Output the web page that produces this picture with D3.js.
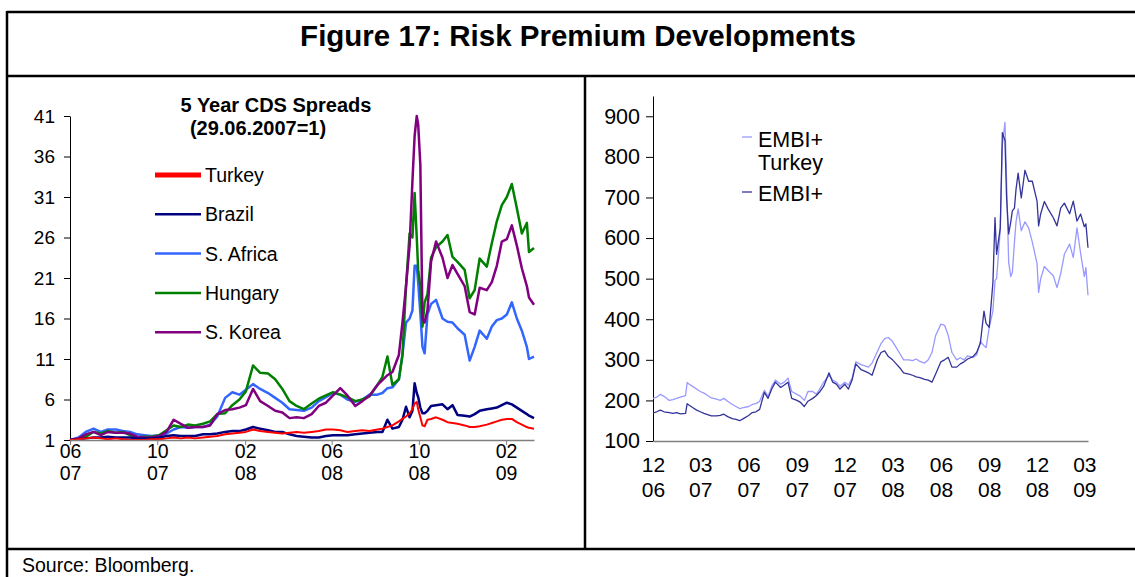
<!DOCTYPE html>
<html>
<head>
<meta charset="utf-8">
<script src="https://cdnjs.cloudflare.com/ajax/libs/d3/7.8.5/d3.min.js"></script>
<style>
  body { margin: 0; background: #fff; }
  text { font-family: Arial, "Liberation Sans", sans-serif; fill: #000; }
</style>
</head>
<body>
<svg width="1135" height="577"></svg>
<script>
// ---- left panel: 5 year CDS spreads (29.06.2007 = 1)
var cdsDates = ["2007-06-29","2007-07-11","2007-07-21","2007-08-01","2007-08-11","2007-08-21","2007-09-01","2007-09-11","2007-09-21",
  "2007-10-01","2007-10-11","2007-10-21","2007-11-01","2007-11-11","2007-11-21","2007-12-01","2007-12-11","2007-12-21",
  "2008-01-01","2008-01-11","2008-01-21","2008-02-01","2008-02-11","2008-02-21","2008-03-01","2008-03-11","2008-03-21",
  "2008-04-01","2008-04-11","2008-04-21","2008-05-01","2008-05-11","2008-05-21","2008-06-01","2008-06-11","2008-06-21",
  "2008-07-01","2008-07-11","2008-07-21","2008-08-01","2008-08-11","2008-08-21","2008-09-01","2008-09-08","2008-09-15","2008-09-22",
  "2008-10-01","2008-10-06","2008-10-11","2008-10-16","2008-10-20","2008-10-23","2008-10-26","2008-10-28","2008-10-31",
  "2008-11-03","2008-11-06","2008-11-10","2008-11-15","2008-11-22","2008-12-01","2008-12-08","2008-12-15","2008-12-22",
  "2009-01-01","2009-01-08","2009-01-15","2009-01-22","2009-02-01","2009-02-08","2009-02-15","2009-02-22",
  "2009-03-01","2009-03-08","2009-03-15","2009-03-22","2009-03-29","2009-04-01","2009-04-08"];

var turkey = [1.0,1.1,1.2,1.3,1.2,1.1,1.2,1.1,1.0, 1.0,1.0,1.1,1.1,1.2,1.3,1.2,1.3,1.2,
  1.3,1.4,1.5,1.7,1.8,1.9,2.0,2.3,2.1, 2.0,1.9,1.8,1.9,2.0,1.9,2.0,2.1,2.3,
  2.3,2.2,2.0,2.1,2.2,2.1,2.3,2.4,2.6,2.8, 3.3,3.6,3.9,4.3,4.8,5.5,5.7,4.8,3.8,
  2.8,2.7,3.5,3.6,3.8,3.5,3.2,3.1,3.0, 2.8,2.6,2.6,2.7,2.9,3.1,3.3,3.5, 3.6,3.6,3.2,2.9,2.6,2.5,2.4];
var brazil = [1.0,1.1,1.2,1.3,1.3,1.4,1.3,1.3,1.3, 1.2,1.2,1.2,1.3,1.5,1.6,1.5,1.5,1.5,
  1.7,1.7,1.8,2.0,2.1,2.1,2.3,2.6,2.4, 2.2,2.0,2.0,1.7,1.5,1.4,1.3,1.3,1.5,
  1.6,1.6,1.6,1.7,1.8,1.9,2.0,2.0,3.5,2.4, 2.6,3.5,5.1,3.8,4.6,8.0,6.8,6.3,5.0,
  4.3,4.3,4.6,5.2,5.3,5.4,4.8,5.3,4.1, 4.0,3.9,4.2,4.6,4.8,4.9,5.0,5.3, 5.6,5.4,5.0,4.6,4.2,4.0,3.7];
var southAfrica = [1.0,1.3,2.0,2.4,2.0,2.3,2.3,2.1,2.0, 1.7,1.6,1.5,1.6,1.8,2.3,2.6,2.5,2.6,
  2.6,2.9,3.9,6.2,6.9,6.6,7.2,7.9,7.3, 6.8,6.2,5.6,4.8,4.7,4.6,5.0,5.8,6.3,
  6.8,6.6,6.0,5.7,6.0,6.6,6.6,6.8,7.4,7.5, 8.5,11.5,15.5,16.0,17.0,22.5,22.5,20.5,16.7,
  12.5,11.7,16.5,17.8,18.3,16.0,15.6,15.5,14.8, 14.0,10.8,12.5,14.5,13.5,15.0,15.8,16.0, 16.5,18.0,16.0,14.5,12.5,11.0,11.3];
var hungary = [1.0,1.1,1.4,2.0,1.8,2.1,1.9,2.0,1.6, 1.3,1.4,1.4,1.6,2.2,2.8,2.6,2.9,2.8,
  3.0,3.3,4.2,4.3,5.3,6.0,7.0,10.2,9.3, 9.2,8.5,7.3,5.8,5.2,4.8,5.5,6.1,6.5,
  6.9,6.6,6.3,5.8,6.0,6.4,7.8,8.8,11.3,7.8, 8.5,11.5,20.0,26.5,26.0,31.5,26.0,22.0,20.0,
  15.0,18.0,19.0,23.5,24.8,25.5,26.3,23.6,23.0, 22.0,18.5,19.5,23.4,22.4,25.3,28.0,30.0, 31.0,32.6,29.6,26.5,27.8,24.2,24.7];
var southKorea = [1.0,1.2,1.7,2.0,1.6,2.0,1.9,1.9,1.8, 1.4,1.3,1.3,1.5,2.0,3.5,3.0,2.5,2.6,
  2.6,2.8,4.2,4.7,4.8,5.0,5.3,7.3,5.8, 5.2,4.6,4.4,3.7,3.8,3.7,4.2,5.2,5.6,
  6.5,7.4,6.5,5.2,5.8,6.5,7.8,8.4,9.0,9.4, 11.5,15.5,20.0,25.0,33.0,38.5,41.0,40.0,35.0,
  16.0,15.5,17.0,23.0,25.5,23.5,21.0,22.6,21.5, 20.0,16.8,16.5,19.8,19.5,20.5,22.5,25.5, 25.8,27.5,25.0,22.2,20.0,18.6,17.7];

var cdsNames = ["Turkey", "Brazil", "S. Africa", "Hungary", "S. Korea"];
var cdsColors = ["#ff0000", "#000080", "#3366ff", "#008000", "#800080"];
var cdsYTicks = [1, 6, 11, 16, 21, 26, 31, 36, 41];
var cdsXTicks = ["2007-06-29","2007-10-29","2008-02-29","2008-06-29","2008-10-29","2009-02-28"];

// ---- right panel: EMBI+ spreads (bp)
var embiDates = ["2006-12-01","2006-12-08","2006-12-15","2006-12-22",
  "2007-01-01","2007-01-08","2007-01-15","2007-01-22","2007-02-01","2007-02-04","2007-02-08","2007-02-15","2007-02-22",
  "2007-03-01","2007-03-08","2007-03-15","2007-03-22","2007-04-01","2007-04-08","2007-04-15","2007-04-22",
  "2007-05-01","2007-05-08","2007-05-15","2007-05-22","2007-06-01","2007-06-08","2007-06-15","2007-06-22",
  "2007-07-01","2007-07-08","2007-07-15","2007-07-22","2007-08-01","2007-08-08","2007-08-15","2007-08-22",
  "2007-09-01","2007-09-08","2007-09-15","2007-09-22","2007-10-01","2007-10-08","2007-10-15","2007-10-22",
  "2007-11-01","2007-11-08","2007-11-15","2007-11-22","2007-12-01","2007-12-08","2007-12-15","2007-12-22",
  "2008-01-01","2008-01-08","2008-01-15","2008-01-22","2008-02-01","2008-02-08","2008-02-15","2008-02-22",
  "2008-03-01","2008-03-08","2008-03-15","2008-03-22","2008-04-01","2008-04-08","2008-04-15","2008-04-22",
  "2008-05-01","2008-05-08","2008-05-15","2008-05-22","2008-06-01","2008-06-08","2008-06-15","2008-06-22",
  "2008-07-01","2008-07-08","2008-07-15","2008-07-22","2008-08-01","2008-08-08","2008-08-15","2008-08-22","2008-08-26",
  "2008-09-01","2008-09-08","2008-09-12","2008-09-15","2008-09-22","2008-09-26",
  "2008-10-01","2008-10-04","2008-10-08","2008-10-12","2008-10-15","2008-10-19","2008-10-22","2008-10-26",
  "2008-11-01","2008-11-08","2008-11-15","2008-11-22","2008-12-01","2008-12-04","2008-12-08","2008-12-15","2008-12-22",
  "2009-01-01","2009-01-08","2009-01-15","2009-01-22","2009-02-01","2009-02-08","2009-02-15","2009-02-22",
  "2009-03-01","2009-03-04","2009-03-08"];

var embiTurkey = [205,208,215,210, 200,202,205,208,212,244,240,234,228,
  222,218,212,206,203,200,205,198, 190,185,180,182,185,190,192,198,
  225,210,235,250,240,245,255,222, 215,210,200,222,222,215,230,245,
  262,250,245,235,245,238,255,295, 288,285,282,292,320,340,352,355,
  345,330,315,300,300,298,302,296, 292,300,318,360,388,385,360,318,
  300,305,300,310,306,312,345,335,330, 380,420,495,500,620,830,
  885,740,540,505,515,590,640,672, 618,640,625,590,537,466,500,530,520,
  507,478,512,560,585,552,625,562, 505,527,459];
var embi = [169,172,176,172, 170,168,170,167,168,192,188,182,176,
  172,168,165,162,162,163,166,160, 155,153,150,155,163,170,172,178,
  220,205,228,245,232,238,245,205, 200,195,185,198,205,212,222,235,
  268,245,240,228,240,228,250,290, 276,272,268,262,300,318,322,308,
  300,290,280,268,265,262,258,256, 252,250,245,265,295,300,306,282,
  282,290,295,302,308,318,340,420,390, 380,490,650,560,625,860,
  840,700,610,640,667,674,720,760, 699,767,740,740,691,630,660,690,672,
  650,630,674,686,660,691,642,659, 628,635,576];

var embiNames = ["EMBI+ Turkey", "EMBI+"];
var embiColors = ["#9999ff", "#333399"];
var embiYTicks = [100, 200, 300, 400, 500, 600, 700, 800, 900];
var embiXTicks = ["2006-12-01","2007-03-01","2007-06-01","2007-09-01","2007-12-01",
  "2008-03-01","2008-06-01","2008-09-01","2008-12-01","2009-03-01"];

var parse = d3.timeParse("%Y-%m-%d");
var fmtM = d3.timeFormat("%m"), fmtY = d3.timeFormat("%y");

var svg = d3.select("svg");
svg.append("rect").attr("width", 1135).attr("height", 577).attr("fill", "#fff");

// frame
var frame = svg.append("g").attr("stroke", "#000").attr("stroke-width", 2.5);
frame.append("line").attr("x1", 7).attr("x2", 1135).attr("y1", 12).attr("y2", 12);
frame.append("line").attr("x1", 7).attr("x2", 1135).attr("y1", 76).attr("y2", 76);
frame.append("line").attr("x1", 7).attr("x2", 1135).attr("y1", 549).attr("y2", 549);
frame.append("line").attr("x1", 7).attr("x2", 7).attr("y1", 11).attr("y2", 577);
frame.append("line").attr("x1", 585).attr("x2", 585).attr("y1", 76).attr("y2", 549);

svg.append("text").attr("x", 578).attr("y", 46).attr("text-anchor", "middle")
    .style("font-size", "29.5px").style("font-weight", "bold")
    .text("Figure 17: Risk Premium Developments");

svg.append("text").attr("x", 22).attr("y", 572).style("font-size", "19.5px")
    .text("Source: Bloomberg.");

// ---------- left chart
var xL = d3.scaleTime().domain([parse("2007-06-29"), parse("2009-04-08")]).range([70, 534]);
var yL = d3.scaleLinear().domain([1, 41]).range([440, 116]);

var gyL = svg.append("g").attr("transform", "translate(70,0)")
    .call(d3.axisLeft(yL).tickValues(cdsYTicks).tickSize(6).tickSizeOuter(0).tickPadding(9));
gyL.select(".domain").attr("stroke", "#000");
gyL.selectAll("text").style("font-size", "19px").attr("fill", "#000");

var cdsSeries = [southAfrica, hungary, southKorea, brazil, turkey];
var cdsOrder = [2, 3, 4, 1, 0];
var lineL = d3.line()
    .x(function(d, i) { return xL(parse(cdsDates[i])); })
    .y(function(d) { return yL(d); });

cdsOrder.forEach(function(k, j) {
  svg.append("path")
      .datum(cdsSeries[j])
      .attr("fill", "none")
      .attr("stroke", cdsColors[k])
      .attr("stroke-width", k == 0 ? 2 : 2.5)
      .attr("stroke-linejoin", "round")
      .attr("d", lineL);
});

var gxL = svg.append("g").attr("transform", "translate(0,440)")
    .call(d3.axisBottom(xL).tickValues(cdsXTicks.map(parse)).tickSize(5).tickSizeOuter(0));
gxL.select(".domain").attr("stroke", "#808080").attr("stroke-width", 1.6);
gxL.selectAll(".tick line").attr("stroke", "#808080");
gxL.selectAll(".tick text").text(null).attr("dy", null).style("font-size", "19.5px").attr("fill", "#000")
    .each(function(d) {
      var t = d3.select(this);
      t.append("tspan").attr("x", 0).attr("y", 18).text(fmtM(d));
      t.append("tspan").attr("x", 0).attr("y", 40).text(fmtY(d));
    });

svg.append("text").attr("x", 276).attr("y", 112).attr("text-anchor", "middle")
    .style("font-size", "20px").style("font-weight", "bold").text("5 Year CDS Spreads");
svg.append("text").attr("x", 258).attr("y", 135).attr("text-anchor", "middle")
    .style("font-size", "20px").style("font-weight", "bold").text("(29.06.2007=1)");

var legL = svg.append("g");
cdsNames.forEach(function(name, i) {
  var cy = 175 + i * 39.3;
  legL.append("line").attr("x1", 155).attr("x2", 201).attr("y1", cy).attr("y2", cy)
      .attr("stroke", cdsColors[i]).attr("stroke-width", i == 0 ? 5 : 2.5);
  legL.append("text").attr("x", 205).attr("y", cy + 7).style("font-size", "19.5px").text(name);
});

// ---------- right chart
var xR = d3.scaleTime().domain([parse("2006-12-01"), parse("2009-03-08")]).range([653, 1088]);
var yR = d3.scaleLinear().domain([100, 950]).range([441, 96]);

var gyR = svg.append("g").attr("transform", "translate(653,0)")
    .call(d3.axisLeft(yR).tickValues(embiYTicks).tickSize(7).tickSizeOuter(0).tickPadding(6));
gyR.select(".domain").attr("stroke", "#000");
gyR.selectAll("text").style("font-size", "21.5px").attr("fill", "#000");

var lineR = function(vals) {
  return d3.line()
      .x(function(d, i) { return xR(parse(embiDates[i])); })
      .y(function(d) { return yR(d); })(vals);
};
[embiTurkey, embi].forEach(function(vals, i) {
  svg.append("path")
      .attr("fill", "none")
      .attr("stroke", embiColors[i])
      .attr("stroke-width", 1.3)
      .attr("stroke-linejoin", "round")
      .attr("d", lineR(vals));
});

var gxR = svg.append("g").attr("transform", "translate(0,441)")
    .call(d3.axisBottom(xR).tickValues(embiXTicks.map(parse)).tickSize(0).tickSizeOuter(0));
gxR.select(".domain").attr("stroke", "#808080").attr("stroke-width", 1.6);
gxR.selectAll(".tick text").text(null).attr("dy", null).style("font-size", "21px").attr("fill", "#000")
    .each(function(d) {
      var t = d3.select(this);
      t.append("tspan").attr("x", 0).attr("y", 31).text(fmtM(d));
      t.append("tspan").attr("x", 0).attr("y", 56).text(fmtY(d));
    });

var legR = svg.append("g").style("font-size", "21.5px");
legR.append("line").attr("x1", 742).attr("x2", 752).attr("y1", 137).attr("y2", 137)
    .attr("stroke", embiColors[0]).attr("stroke-width", 1.3);
legR.append("text").attr("x", 758).attr("y", 147).text("EMBI+");
legR.append("text").attr("x", 758).attr("y", 170).text("Turkey");
legR.append("line").attr("x1", 742).attr("x2", 752).attr("y1", 192).attr("y2", 192)
    .attr("stroke", embiColors[1]).attr("stroke-width", 1.3);
legR.append("text").attr("x", 758).attr("y", 201).text(embiNames[1]);
</script>
</body>
</html>
